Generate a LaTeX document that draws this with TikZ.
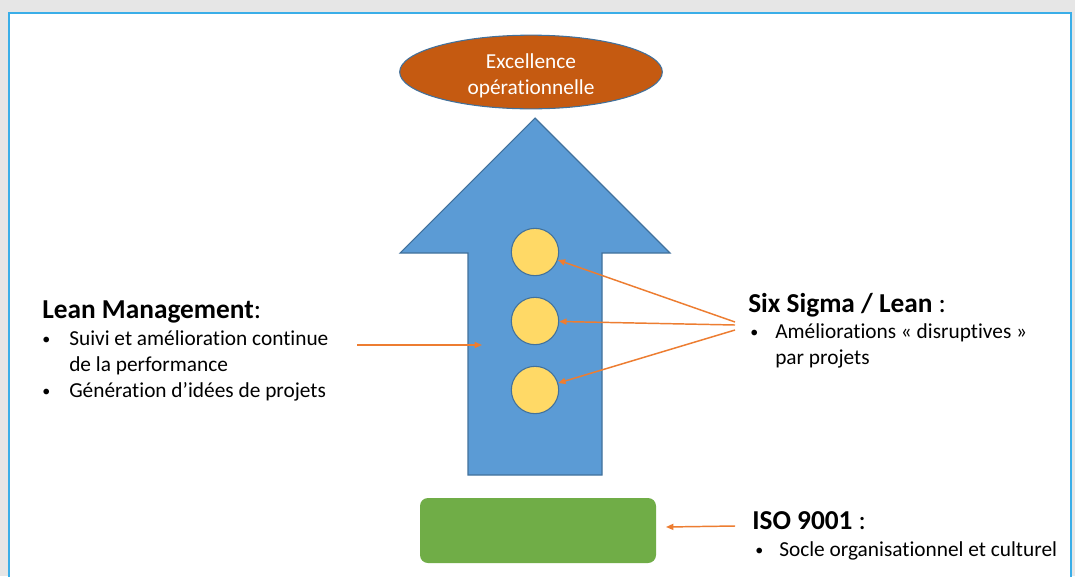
\documentclass[tikz,border=0pt]{standalone}
\usepackage{fontspec}
\setmainfont{Carlito}[Ligatures=NoCommon]
\usetikzlibrary{shapes.geometric,arrows.meta}
\definecolor{bggray}{HTML}{E6E6E6}
\definecolor{framebl}{HTML}{3AAEE8}
\definecolor{arrowfill}{HTML}{5B9BD5}
\definecolor{arrowline}{HTML}{41719C}
\definecolor{rust}{HTML}{C55A11}
\definecolor{gold}{HTML}{FFD966}
\definecolor{leaf}{HTML}{70AD47}
\definecolor{orangeln}{HTML}{ED7D31}
\newcommand{\bul}[1]{\makebox[#1][l]{\fontsize{12}{12}\selectfont\raisebox{0.5pt}{•}}}
\begin{document}
\begin{tikzpicture}[x=0.75pt,y=-0.75pt,
  bigarrow/.style={fill=arrowfill,draw=arrowline,line width=0.8pt,line join=miter},
  goal/.style={ellipse,fill=rust,draw=arrowline,line width=0.8pt,minimum width=197pt,minimum height=52.5pt,inner sep=0pt,
    text=white,align=center,font=\fontsize{16}{19.5}\selectfont},
  dot/.style={circle,fill=gold,draw=arrowline,line width=0.8pt,minimum size=35.5pt,inner sep=0pt},
  base/.style={fill=leaf,rounded corners=6pt,minimum width=177pt,minimum height=48.75pt,inner sep=0pt},
  title/.style={anchor=base west,inner sep=0pt,font=\fontsize{20.5}{24}\selectfont},
  body/.style={anchor=base west,inner sep=0pt,align=left,font=\fontsize{16}{19.3}\selectfont},
  link/.style={draw=orangeln,line width=1.1pt,-{Triangle[length=5.5pt,width=4.5pt]}}]
\useasboundingbox (0,0) rectangle (1075,576);
\fill[bggray] (0,0) rectangle (1075,576);
\begin{scope}
\clip (0,0) rectangle (1075,576);
\draw[framebl,line width=1.5pt,fill=white] (9,13) rectangle (1071,600);
\end{scope}
% big arrow
\draw[bigarrow] (535,118) -- (670,253) -- (602,253) -- (602,475) -- (468,475) -- (468,253) -- (400,253) -- cycle;
% goal ellipse
\node[goal] (goal) at (531,72) {\rule{0pt}{17pt}Excellence\\opérationnelle};
% circles
\node[dot] (c1) at (535,252) {};
\node[dot] (c2) at (535,321) {};
\node[dot] (c3) at (535,390) {};
% green base
\node[base] (iso) at (538,530.5) {};
% texts (base anchor = last line baseline)
\node[title] (leant) at (42,318) {\textbf{Lean Management}:};
\node[body] (leanl) at (42,397) {\bul{20.25pt}Suivi et amélioration continue\\\hspace*{20.25pt}de la performance\\\bul{20.25pt}Génération d’idées de projets};
\node[title] (sst) at (748,312) {\textbf{Six Sigma / Lean} :};
\node[body] (ssl) at (750,364) {\bul{18.75pt}Améliorations « disruptives »\\\hspace*{18.75pt}par projets};
\node[title] (isot) at (752,529) {\textbf{ISO 9001} :};
\node[body] (isol) at (755,556) {\bul{18pt}Socle organisationnel et culturel};
% connectors
\coordinate (leanfrom) at (357,345);
\coordinate (leanto) at (482,345);
\coordinate (ss1) at (735,322);
\coordinate (ss2) at (735,325);
\coordinate (ss3) at (735,330);
\coordinate (isofrom) at (735,526);
\coordinate (isoto) at (666,527);
\draw[link] (leanfrom) -- (leanto);
\draw[link] (ss1) -- (c1);
\draw[link] (ss2) -- (c2);
\draw[link] (ss3) -- (c3);
\draw[link] (isofrom) -- (isoto);
\end{tikzpicture}
\end{document}
